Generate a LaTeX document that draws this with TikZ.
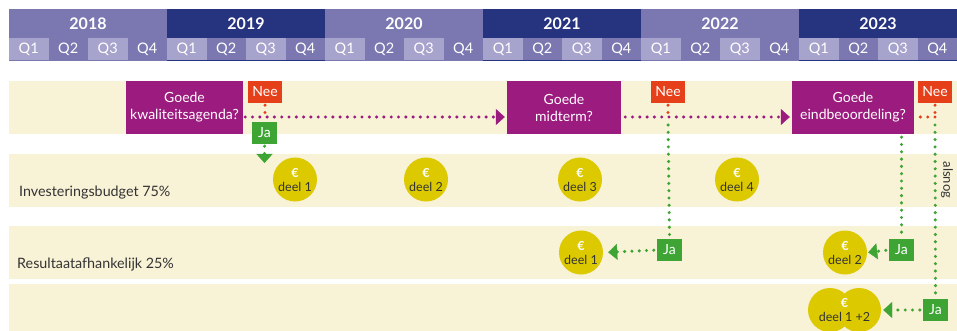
\documentclass[tikz,border=0pt]{standalone}
\usepackage{fontspec}
\setmainfont{Lato}
\usetikzlibrary{arrows.meta}

\definecolor{yearlight}{HTML}{7B78B1}
\definecolor{yeardark}{HTML}{26337F}
\definecolor{qlight}{HTML}{A6A3CD}
\definecolor{rowbg}{HTML}{F8F2D6}
\definecolor{vraagcol}{HTML}{9B1B7E}
\definecolor{neecol}{HTML}{E5401A}
\definecolor{jacol}{HTML}{3EA535}
\definecolor{muntcol}{HTML}{DCC900}
\definecolor{tekst}{HTML}{333333}

\tikzset{
  yearcell/.style={minimum width=158pt, minimum height=29pt, inner sep=0pt,
    text=white, font=\fontsize{16}{18}\selectfont\bfseries},
  qcell/.style={minimum width=39.5pt, minimum height=23pt, inner sep=0pt,
    text=white, font=\fontsize{14.5}{16}\selectfont},
  vraag/.style={fill=vraagcol, minimum height=53pt, inner sep=0pt, text=white,
    align=center, font=\fontsize{14}{17}\selectfont},
  nee/.style={fill=neecol, minimum width=34pt, minimum height=22pt, inner sep=0pt,
    text=white, font=\fontsize{14}{16}\selectfont},
  ja/.style={fill=jacol, minimum width=25pt, minimum height=22pt, inner sep=0pt,
    text=white, font=\fontsize{14}{16}\selectfont},
  munt/.style={circle, fill=muntcol, minimum size=44pt, inner sep=0pt,
    align=center, text=tekst, font=\fontsize{12.5}{14}\selectfont},
  rowlabel/.style={anchor=west, inner sep=0pt, text=tekst,
    font=\fontsize{14.3}{16}\selectfont},
  dotline/.style={line width=3.4pt, line cap=round, dash pattern=on 0pt off 7.3pt},
  pijl/.style={-{Triangle[width=16pt,length=9pt,line width=0.4pt]}}
}

\begin{document}
\begin{tikzpicture}[x=1pt,y=-1pt]
    \useasboundingbox (0,0) rectangle (957,331);

    % Years and quarters
    \foreach \jaar [count=\i from 0] in {2018,...,2023} {
        \pgfmathsetmacro{\xa}{9+158*\i}
        \ifodd\i \def\kleur{yeardark}\else\def\kleur{yearlight}\fi
        \node[yearcell, fill=\kleur] (j\jaar) at (\xa+79,23.5) {\jaar};
        \foreach \q in {1,...,4} {
            \ifodd\q \def\qkleur{qlight}\else\def\qkleur{yearlight}\fi
            \node[qcell, fill=\qkleur] (q\jaar-\q) at (\xa+39.5*\q-19.75,49.5) {Q\q};
        }
        \draw[\kleur, line width=1pt] (\xa,60.5) -- (\xa+158,60.5);
    }

    % Rows
    \fill[rowbg] (9,81) rectangle (957,134);
    \fill[rowbg] (9,154) rectangle (957,207);
    \fill[rowbg] (9,226) rectangle (957,279);
    \fill[rowbg] (9,284) rectangle (957,331);

    \node[rowlabel] (invest) at (19,193) {Investeringsbudget 75\%};
    \node[rowlabel] (result) at (17,264.5) {Resultaatafhankelijk 25\%};

    % Questions
    \node[vraag, minimum width=117pt] (vraag1) at (184.5,107.5) {Goede\\kwaliteitsagenda?};
    \node[vraag, minimum width=114pt] (vraag2) at (564,107.5) {Goede\\midterm?};
    \node[vraag, minimum width=122pt] (vraag3) at (853,107.5) {Goede\\eindbeoordeling?};

    \node[nee] (nee1) at (265,92) {Nee};
    \node[nee] (nee2) at (668,92) {Nee};
    \node[nee] (nee3) at (935,92) {Nee};

    \node[ja] (ja1) at (264.5,133) {Ja};
    \node[ja] (ja2) at (669.5,250) {Ja};
    \node[ja] (ja3) at (901.5,250) {Ja};
    \node[ja] (ja4) at (935.5,310) {Ja};

    % Coins
    \foreach \x/\n in {295/1, 426/2, 580/3, 737/4} {
        \node[munt] (invest\n) at (\x,179.5) {{\bfseries\color{white}€}\\deel \n};
    }
    \node[munt] (result1) at (581,252.5) {{\bfseries\color{white}€}\\deel 1};
    \node[munt] (result2) at (845,252.5) {{\bfseries\color{white}€}\\deel 2};
    \node[munt] (dubbelL) at (830,310) {};
    \node[munt] (dubbelR) at (859,310) {};
    \node[munt, fill=none] (dubbel) at (844.5,310) {{\bfseries\color{white}€}\\deel 1 +2};

    % Connectors
    \coordinate (knoop1) at (265,117);
    \coordinate (knoop2) at (668,117);
    \coordinate (knoop3) at (935,117);
    \coordinate (pijlpunt1) at (264.5,163);

    \draw[dotline, vraagcol, pijl, shorten <=2pt, shorten >=2pt]
        (vraag1.east |- knoop1) -- (vraag2.west |- knoop1);
    \draw[dotline, vraagcol, pijl, shorten <=4pt, shorten >=2pt]
        (vraag2.east |- knoop2) -- (vraag3.west |- knoop2);

    \draw[dotline, neecol, shorten <=2pt] (nee1.south) -- (knoop1);
    \draw[dotline, neecol, shorten <=2pt] (nee2.south) -- (knoop2);
    \draw[dotline, neecol, shorten <=2pt] (nee3.south) -- (knoop3);
    \draw[dotline, neecol, shorten >=3pt] (knoop3) -- (vraag3.east |- knoop3);

    \draw[dotline, jacol, pijl, shorten <=2pt] (ja1.south) -- (pijlpunt1);
    \draw[dotline, jacol, shorten <=8pt, shorten >=2pt] (knoop2) -- (ja2.north);
    \draw[dotline, jacol, shorten <=3pt, shorten >=2pt] (vraag3.south -| ja3) -- (ja3.north);
    \draw[dotline, jacol, shorten <=8pt, shorten >=2pt] (knoop3) -- (ja4.north);

    \draw[dotline, jacol, pijl, shorten <=3pt, shorten >=5pt] (ja2.west) -- (result1.east);
    \draw[dotline, jacol, pijl, shorten <=3pt, shorten >=1pt] (ja3.west) -- (result2.east);
    \draw[dotline, jacol, pijl, shorten <=3pt, shorten >=2pt] (ja4.west) -- (dubbelR.east);

    \node[rotate=-90, inner sep=0pt, text=tekst, font=\fontsize{13}{15}\selectfont]
        (alsnog) at (947,180) {alsnog};
\end{tikzpicture}
\end{document}
